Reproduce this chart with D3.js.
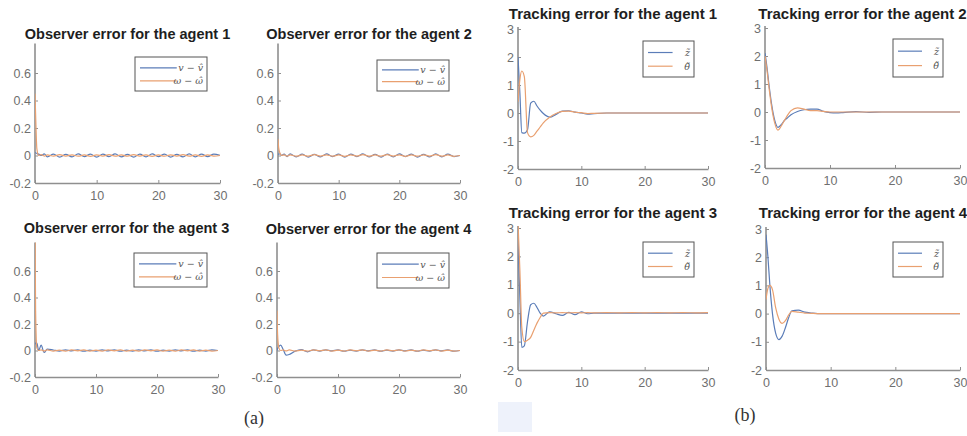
<!DOCTYPE html>
<html>
<head>
<meta charset="utf-8">
<script src="https://cdn.jsdelivr.net/npm/d3@7"></script>
<style>
  html, body { margin: 0; padding: 0; background: #fff; }
  svg { display: block; }
</style>
</head>
<body>
<script>
// tick labels
const xTicks = [0, 10, 20, 30]
const obsYTicks = [-0.2, 0, 0.2, 0.4, 0.6]
const trkYTicks = [-2, -1, 0, 1, 2, 3]

// observer error, sampled time
const tObs = [0, 0.1, 0.3, 0.6, 1, 1.5, 2, 3, 4, 5, 6, 7, 8, 9, 10, 11, 12, 13, 14, 15, 16, 17, 18, 19, 20, 21, 22, 23, 24, 25, 26, 27, 28, 29, 30]
const obsV1 = [0.02, 0.02, 0.015, 0.01, 0.0, 0.012, -0.01, 0.01, -0.012, 0.008, -0.01, 0.012, -0.008, 0.01, -0.012, 0.01, -0.008, 0.012, -0.01, 0.008, -0.012, 0.01, -0.01, 0.012, -0.008, 0.01, -0.012, 0.008, -0.01, 0.012, -0.01, 0.01, -0.008, 0.01, 0.0]
const obsW1 = [0.45, 0.3, 0.05, 0.0, 0.006, -0.004, 0.005, -0.005, 0.006, -0.004, 0.005, -0.005, 0.004, -0.006, 0.005, -0.004, 0.006, -0.005, 0.004, -0.005, 0.006, -0.004, 0.005, -0.006, 0.004, -0.005, 0.005, -0.004, 0.006, -0.005, 0.004, -0.006, 0.005, -0.004, 0.0]
const obsV2 = [0.01, 0.01, 0.012, 0.0, 0.01, -0.008, 0.012, -0.01, 0.01, -0.012, 0.008, -0.01, 0.012, -0.008, 0.01, -0.012, 0.01, -0.008, 0.012, -0.01, 0.008, -0.012, 0.01, -0.01, 0.012, -0.008, 0.01, -0.012, 0.008, -0.01, 0.012, -0.01, 0.01, -0.008, 0.0]
const obsW2 = [0.12, 0.06, 0.02, 0.0, 0.005, -0.004, 0.005, -0.005, 0.004, -0.005, 0.006, -0.004, 0.005, -0.005, 0.004, -0.006, 0.005, -0.004, 0.006, -0.005, 0.004, -0.005, 0.006, -0.004, 0.005, -0.006, 0.004, -0.005, 0.005, -0.004, 0.006, -0.005, 0.004, -0.006, 0.0]
const obsV3 = [0.06, 0.05, 0.055, 0.0, 0.04, -0.015, 0.01, 0.004, -0.004, 0.005, -0.003, 0.004, -0.005, 0.003, -0.004, 0.005, -0.003, 0.004, -0.005, 0.003, -0.004, 0.005, -0.003, 0.004, -0.005, 0.003, -0.004, 0.005, -0.003, 0.004, -0.005, 0.003, -0.004, 0.005, 0.0]
const obsW3 = [0.95, 0.3, 0.02, 0.0, 0.004, -0.003, 0.004, -0.004, 0.003, -0.004, 0.004, -0.003, 0.004, -0.004, 0.003, -0.004, 0.004, -0.003, 0.004, -0.004, 0.003, -0.004, 0.004, -0.003, 0.004, -0.004, 0.003, -0.004, 0.004, -0.003, 0.004, -0.004, 0.003, -0.004, 0.0]
const obsV4 = [0.0, 0.015, 0.03, 0.04, 0.01, -0.035, -0.03, -0.005, 0.006, -0.01, 0.005, -0.004, 0.005, -0.003, 0.004, -0.005, 0.003, -0.004, 0.005, -0.003, 0.004, -0.005, 0.003, -0.004, 0.005, -0.003, 0.004, -0.005, 0.003, -0.004, 0.005, -0.003, 0.004, -0.005, 0.0]
const obsW4 = [0.3, 0.12, 0.02, 0.0, 0.004, -0.003, 0.004, -0.004, 0.003, -0.004, 0.004, -0.003, 0.004, -0.004, 0.003, -0.004, 0.004, -0.003, 0.004, -0.004, 0.003, -0.004, 0.004, -0.003, 0.004, -0.004, 0.003, -0.004, 0.004, -0.003, 0.004, -0.004, 0.003, -0.004, 0.0]

// tracking error, sampled time
const tTrk = [0, 0.3, 0.6, 1, 1.5, 2, 2.5, 3, 3.5, 4, 5, 6, 7, 8, 9, 10, 11, 12, 14, 16, 18, 20, 22, 24, 26, 28, 30]
const trkZ1 = [2, 0.7, -0.7, -0.72, -0.6, 0.35, 0.42, 0.25, 0.1, -0.02, -0.15, -0.05, 0.07, 0.08, 0.03, 0, -0.04, -0.02, 0, 0, 0, 0, 0, 0, 0, 0, 0]
const trkT1 = [0.4, 1.2, 1.5, 1.3, -0.7, -0.85, -0.8, -0.65, -0.5, -0.35, -0.15, -0.02, 0.06, 0.07, 0.03, 0.01, -0.02, -0.01, 0, 0, 0, 0, 0, 0, 0, 0, 0]
const trkZ2 = [2.1, 1.6, 1.0, 0.3, -0.3, -0.55, -0.45, -0.3, -0.2, -0.1, 0.02, 0.08, 0.1, 0.1, 0.02, -0.02, -0.03, -0.02, 0.01, -0.01, 0, 0, 0, 0, 0, 0, 0]
const trkT2 = [2.0, 1.5, 0.9, 0.2, -0.4, -0.65, -0.5, -0.3, -0.1, 0.05, 0.15, 0.1, 0.05, 0.05, 0.02, 0, 0, 0, 0, 0, 0, 0, 0, 0, 0, 0, 0]
const trkZ3 = [2.6, 0.5, -1.2, -1.15, -0.3, 0.3, 0.35, 0.2, 0.0, -0.1, 0.05, -0.02, -0.08, 0.03, -0.05, 0.05, -0.02, 0, 0, 0, 0, 0, 0, 0, 0, 0, 0]
const trkT3 = [3.2, 1.5, -0.5, -1.0, -0.95, -0.85, -0.6, -0.35, -0.15, 0.0, 0.02, 0.01, 0.02, 0.01, 0.02, 0.01, 0.02, 0.01, 0.02, 0.01, 0.02, 0.01, 0.02, 0.01, 0.02, 0.01, 0.02]
const trkZ4 = [2.8, 2.0, 1.0, 0.0, -0.7, -0.92, -0.8, -0.5, -0.15, 0.1, 0.12, 0.05, 0.02, 0, 0, 0, 0, 0, 0, 0, 0, 0, 0, 0, 0, 0, 0]
const trkT4 = [0.5, 0.9, 1.0, 0.85, 0.2, -0.2, -0.35, -0.25, -0.05, 0.08, 0.05, 0.02, 0.01, 0, 0, 0, 0, 0, 0, 0, 0, 0, 0, 0, 0, 0, 0]

const obsLabels = ["v \u2212 v\u0302", "\u03c9 \u2212 \u03c9\u0302"]
const trkLabels = ["z\u0303", "\u03b8\u0303"]

const width = 967
const height = 436
const blue = "#5b7db8"
const orange = "#e9a070"
const axisColor = "#8f8f8f"
const tickColor = "#6f6f6f"

// one entry per sub plot: axis box, title place and legend box
const panels = [
  { title: "Observer error for the agent 1", left: 35, right: 220, top: 45.5, bottom: 183, titleY: 39, fs: 14.5,
    yDom: [-0.2, 0.8], yTicks: obsYTicks, t: tObs, s: [obsV1, obsW1], labels: obsLabels, leg: [135, 57, 72, 34] },
  { title: "Observer error for the agent 2", left: 278, right: 460, top: 45.5, bottom: 183, titleY: 39, fs: 14.5,
    yDom: [-0.2, 0.8], yTicks: obsYTicks, t: tObs, s: [obsV2, obsW2], labels: obsLabels, leg: [377, 60, 72, 31] },
  { title: "Observer error for the agent 3", left: 35, right: 218, top: 244.5, bottom: 377, titleY: 233, fs: 14.5,
    yDom: [-0.2, 0.8], yTicks: obsYTicks, t: tObs, s: [obsV3, obsW3], labels: obsLabels, leg: [134, 253, 73, 34] },
  { title: "Observer error for the agent 4", left: 277, right: 460, top: 244.5, bottom: 377, titleY: 234, fs: 14.5,
    yDom: [-0.2, 0.8], yTicks: obsYTicks, t: tObs, s: [obsV4, obsW4], labels: obsLabels, leg: [377, 253, 72, 35] },
  { title: "Tracking error for the agent 1", left: 518, right: 708, top: 29, bottom: 169, titleY: 19, fs: 15,
    yDom: [-2, 3], yTicks: trkYTicks, t: tTrk, s: [trkZ1, trkT1], labels: trkLabels, leg: [643, 41, 51, 36] },
  { title: "Tracking error for the agent 2", left: 765, right: 960, top: 28, bottom: 168, titleY: 19, fs: 15,
    yDom: [-2, 3], yTicks: trkYTicks, t: tTrk, s: [trkZ2, trkT2], labels: trkLabels, leg: [893, 39, 50, 38] },
  { title: "Tracking error for the agent 3", left: 518, right: 708, top: 228, bottom: 370, titleY: 218, fs: 15,
    yDom: [-2, 3], yTicks: trkYTicks, t: tTrk, s: [trkZ3, trkT3], labels: trkLabels, leg: [643, 242, 51, 35] },
  { title: "Tracking error for the agent 4", left: 766, right: 960, top: 229, bottom: 370, titleY: 218, fs: 15,
    yDom: [-2, 3], yTicks: trkYTicks, t: tTrk, s: [trkZ4, trkT4], labels: trkLabels, leg: [893, 242, 50, 35] }
]

const svg = d3.select("body").append("svg")
  .attr("width", width)
  .attr("height", height)
  .attr("viewBox", [0, 0, width, height])
  .style("font-family", "'Liberation Sans', Arial, sans-serif")

// faint blue patch under panel (b)
svg.append("rect").attr("x", 498).attr("y", 402).attr("width", 34).attr("height", 30).attr("fill", "#eef2fb")

panels.forEach((p, k) => {
  const x = d3.scaleLinear().domain([0, 30]).range([p.left, p.right])
  const y = d3.scaleLinear().domain(p.yDom).range([p.bottom, p.top])
  const g = svg.append("g")

  g.append("clipPath").attr("id", "clip" + k)
    .append("rect")
    .attr("x", p.left).attr("y", p.top - 2)
    .attr("width", p.right - p.left).attr("height", p.bottom - p.top + 2)

  // x axis
  const xAxis = g.append("g")
    .attr("transform", `translate(0,${p.bottom})`)
    .call(d3.axisBottom(x).tickValues(xTicks).tickSizeInner(-3).tickSizeOuter(0).tickPadding(8))
  // y axis, plain hyphen for negatives like matlab
  const yAxis = g.append("g")
    .attr("transform", `translate(${p.left},0)`)
    .call(d3.axisLeft(y).tickValues(p.yTicks).tickSizeInner(-3).tickSizeOuter(0).tickPadding(4)
      .tickFormat(d => String(+d.toFixed(1))))

  ;[xAxis, yAxis].forEach(a => {
    a.select(".domain").attr("stroke", axisColor).attr("stroke-width", 1.6)
    a.selectAll(".tick line").attr("stroke", axisColor)
    a.selectAll(".tick text").attr("fill", tickColor).attr("font-size", 12.5)
  })
  yAxis.select(".domain").attr("d", `M0,${p.bottom}V${p.top - 2}`)

  // lines, blue first then orange on top
  const line = d3.line()
    .x(d => x(d[0]))
    .y(d => y(d[1]))
    .curve(d3.curveMonotoneX)

  const colors = [blue, orange]
  p.s.forEach((vals, i) => {
    const pts = p.t.map((t, j) => [t, vals[j]]).filter(d => d[1] !== undefined)
    g.append("path")
      .attr("clip-path", `url(#clip${k})`)
      .attr("fill", "none")
      .attr("stroke", colors[i])
      .attr("stroke-width", 1.2)
      .attr("d", line(pts))
  })

  // title
  g.append("text")
    .attr("x", (p.left + p.right) / 2)
    .attr("y", p.titleY)
    .attr("text-anchor", "middle")
    .attr("font-weight", "bold")
    .attr("font-size", p.fs)
    .attr("fill", "#1e1e1e")
    .text(p.title)

  // legend
  const [lx, ly, lw, lh] = p.leg
  const lg = g.append("g")
  lg.append("rect")
    .attr("x", lx).attr("y", ly).attr("width", lw).attr("height", lh)
    .attr("fill", "#fff").attr("stroke", "#555").attr("stroke-width", 1)
  p.labels.forEach((lab, i) => {
    const ry = ly + lh * (i === 0 ? 0.32 : 0.7)
    lg.append("line")
      .attr("x1", lx + 5).attr("x2", lx + lw * 0.58)
      .attr("y1", ry).attr("y2", ry)
      .attr("stroke", colors[i]).attr("stroke-width", 1.2)
    lg.append("text")
      .attr("x", lx + lw - 4)
      .attr("y", ry + 3.5)
      .attr("text-anchor", "end")
      .attr("font-family", "'DejaVu Serif', serif")
      .attr("font-style", "italic")
      .attr("font-size", 9.5)
      .attr("fill", "#555")
      .text(lab)
  })
})

// sub figure captions
svg.append("text").attr("x", 254).attr("y", 424).attr("text-anchor", "middle")
  .attr("font-family", "'Liberation Serif', serif").attr("font-size", 18).attr("fill", "#333").text("(a)")
svg.append("text").attr("x", 745).attr("y", 421).attr("text-anchor", "middle")
  .attr("font-family", "'Liberation Serif', serif").attr("font-size", 18).attr("fill", "#333").text("(b)")
</script>
</body>
</html>
